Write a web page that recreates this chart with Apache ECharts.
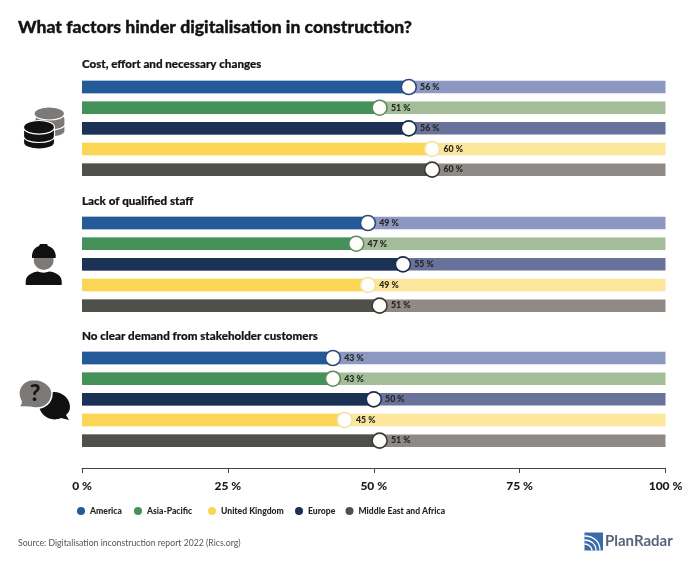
<!DOCTYPE html>
<html>
<head>
<meta charset="utf-8">
<style>html,body{margin:0;padding:0;background:#fff}#c{width:700px;height:564px}</style>
<script src="https://cdn.jsdelivr.net/npm/echarts@6/dist/echarts.min.js"></script>
</head>
<body>
<div id="c"></div>
<script>
const regions = ['America', 'Asia-Pacific', 'Europe', 'United Kingdom', 'Middle East and Africa'];
const legendOrder = ['America', 'Asia-Pacific', 'United Kingdom', 'Europe', 'Middle East and Africa'];
const groupTitles = ['Cost, effort and necessary changes', 'Lack of qualified staff', 'No clear demand from stakeholder customers'];
const costValues = [56, 51, 56, 60, 60];
const staffValues = [49, 47, 55, 49, 51];
const demandValues = [43, 43, 50, 45, 51];
const axisTicks = [0, 25, 50, 75, 100];
const barColors = ['#255a98', '#44925a', '#1c3156', '#fbd654', '#4f504c'];
const trackColors = ['#8c97c2', '#a3bd98', '#69729a', '#fce69b', '#8f8a85'];
const ringColors = ['#2e4a80', '#5d8a5f', '#1c2c4f', '#f0e3a5', '#3a3a3a'];
const groups = [costValues, staffValues, demandValues];
const gridTops = [76.7, 212.7, 347.7];
const legendLefts = [77, 134, 208, 295, 345.5];
const rowH = 20.65, FONT = 'Lato';
const heavy = {fontFamily: FONT, fontWeight: 900};

const grid = [], xAxis = [], yAxis = [], series = [];
groups.forEach((vals, g) => {
  grid.push({left: 82, width: 583.5, top: gridTops[g], height: rowH * 5});
  xAxis.push({
    type: 'value', gridIndex: g, min: 0, max: 100, interval: 25, show: g === 2,
    position: 'bottom', offset: 17,
    splitLine: {show: false},
    axisLine: {show: true, lineStyle: {color: '#444', width: 1}},
    axisTick: {show: true, length: 5, lineStyle: {color: '#444', width: 1}},
    axisLabel: {...heavy, margin: 12, fontSize: 12, color: '#1a1a1a',
      formatter: v => axisTicks.includes(v) ? v + ' %' : ''}
  });
  yAxis.push({type: 'category', gridIndex: g, data: regions, inverse: true, show: false});
  series.push({
    type: 'bar', name: 'track' + g, xAxisIndex: g, yAxisIndex: g, barWidth: 12.5, barGap: '-100%', silent: true, z: 1,
    data: regions.map((r, i) => ({value: 100, itemStyle: {color: trackColors[i]}}))
  });
  regions.forEach((r, i) => {
    series.push({
      type: 'bar', name: r, xAxisIndex: g, yAxisIndex: g, barWidth: 12.5, barGap: '-100%', z: 2,
      itemStyle: {color: barColors[i]},
      data: regions.map((_, j) => j === i ? vals[i] : null)
    });
  });
  series.push({
    type: 'scatter', name: 'marker' + g, xAxisIndex: g, yAxisIndex: g, symbolSize: 15, z: 3,
    data: vals.map((v, i) => ({
      value: [v, regions[i]],
      itemStyle: {color: '#fffefa', opacity: 1, borderColor: ringColors[i], borderWidth: 1.6}
    })),
    label: {show: true, position: 'right', distance: 3, ...heavy, fontSize: 8.8, color: '#26261f',
      formatter: p => p.value[0] + ' %'}
  });
});

const titleAt = (text, left, top, size, weight, color, border) => ({text, left, top, padding: 0,
  textStyle: {fontFamily: FONT, fontSize: size, fontWeight: weight, color,
    textBorderColor: color, textBorderWidth: border || 0}});

const dark = '#111', grey = '#7d7977';
const cyl = (l, r, yTop, h, ry) => {
  const k = ry * 1.33;
  return `M${l} ${yTop} C${l} ${yTop - k} ${r} ${yTop - k} ${r} ${yTop} L${r} ${yTop + h} C${r} ${yTop + h + k} ${l} ${yTop + h + k} ${l} ${yTop + h} Z`;
};
const iconPaths = {
  coinG3: cyl(35, 65, 125, 6, 6), coinG2: cyl(35, 65, 119, 5, 6), coinG1: cyl(34, 64.5, 113.5, 0, 6.5),
  coinB3: cyl(23.5, 54.5, 136.5, 6, 6.5), coinB2: cyl(23.5, 54.5, 130, 6, 6.5), coinB1: cyl(23.5, 54.5, 127.3, 0, 6.8),
  helmet: 'M32 258 L32 255 C33 249 36 247 39 246 L40 244 L47 244 L48 246 C52 247 55 250 55.7 255 L55.7 258 Z',
  shoulders: 'M25.7 285 L25.7 281 C26 275 33 272 38 271.5 C41 273 46 273 49 271.5 C55 272 61.5 275 61.7 281 L61.7 285 Z',
  bubbleBack: 'M69 420 L61 418 C50 423 39 414 39 405 C39 395 48 392 54 392 C63 392 70 399 70 407 C70 411 68 413 66 415 Z',
  bubbleFront: 'M18 407 C22 404 21 403 21 401 C16 392 20 380 34 379.5 C46 379.5 52 388 52 393 C52 403 44 409 35 408 C30 407 27 407 24 407 Z',
  logoArcs: 'M584.5 536 C594 536 600 542 600 550.5 M584.5 540 C591 540 596 544 596 550.5 M584.5 544 C588.5 544 592 547 592 550.5'
};
Object.keys(iconPaths).forEach(k => echarts.graphic.registerShape(k, echarts.graphic.extendPath(iconPaths[k], {})));
const sep = {stroke: '#fff', lineWidth: 1.2};
const graphic = [
  {type: 'coinG3', style: {fill: grey, ...sep}}, {type: 'coinG2', style: {fill: grey, ...sep}}, {type: 'coinG1', style: {fill: grey, ...sep}},
  {type: 'coinB3', style: {fill: dark, ...sep}}, {type: 'coinB2', style: {fill: dark, ...sep}}, {type: 'coinB1', style: {fill: dark, ...sep}},
  {type: 'circle', shape: {cx: 43.7, cy: 260, r: 10}, style: {fill: grey}},
  {type: 'helmet', style: {fill: dark}},
  {type: 'shoulders', style: {fill: dark}},
  {type: 'bubbleBack', style: {fill: dark}},
  {type: 'bubbleFront', style: {fill: grey, stroke: '#fff', lineWidth: 1.5}},
  {type: 'text', x: 35, y: 393.5, style: {text: '?', ...heavy, fontSize: 23, fill: '#161616', align: 'center', verticalAlign: 'middle'}},
  {type: 'rect', shape: {x: 584.5, y: 532.5, width: 18.5, height: 18}, style: {fill: '#3a6aa8'}},
  {type: 'logoArcs', style: {fill: 'none', stroke: '#fff', lineWidth: 1.3}},
  {type: 'text', x: 605, y: 541.5, style: {text: 'PlanRadar', fontFamily: FONT, fontWeight: 'bold', fontSize: 15, fill: '#56657a', verticalAlign: 'middle'}}
];

const chart = echarts.init(document.getElementById('c'), null, {renderer: 'canvas'});
chart.setOption({
  animation: false,
  backgroundColor: '#fff',
  title: [
    titleAt('What factors hinder digitalisation in construction?', 18, 18, 17.6, 900, '#141414', 0.35),
    titleAt(groupTitles[0], 82, 58, 11.6, 900, '#141414', 0.2),
    titleAt(groupTitles[1], 82, 195, 11.6, 900, '#141414', 0.2),
    titleAt(groupTitles[2], 82, 330, 11.6, 900, '#141414', 0.2),
    titleAt('Source: Digitalisation inconstruction report 2022 (Rics.org)', 18, 539, 8.7, 'normal', '#555')
  ],
  grid, xAxis, yAxis, series, graphic,
  legend: legendOrder.map((n, k) => ({
    left: legendLefts[k], top: 506.5, padding: 0, itemWidth: 8, itemHeight: 8, itemGap: 0, icon: 'circle',
    data: [{name: n, icon: 'circle', itemStyle: {color: barColors[regions.indexOf(n)]}}],
    textStyle: {...heavy, fontSize: 8.6, color: '#26261f'},
    selectedMode: false
  }))
});
</script>
</body>
</html>
